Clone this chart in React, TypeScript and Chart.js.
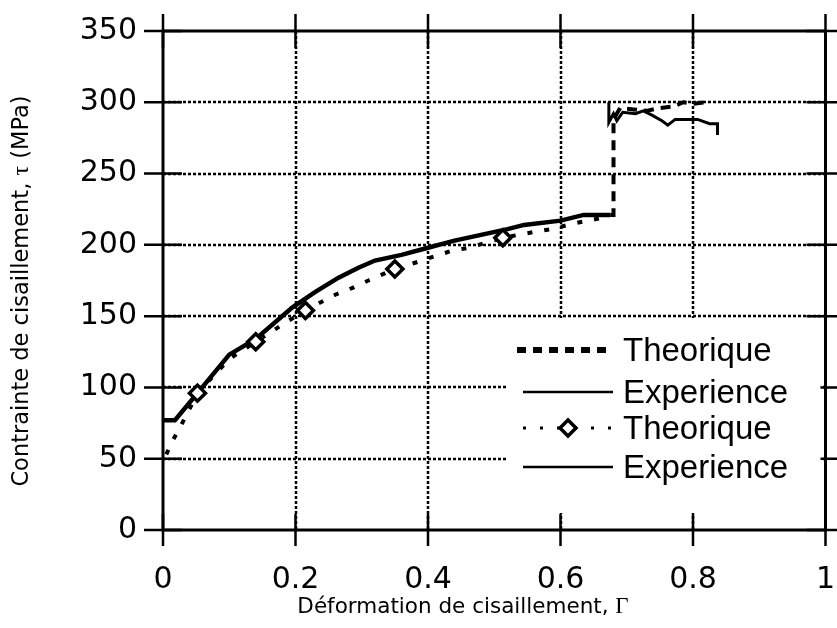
import React, { useEffect, useRef } from "react";
import { Chart, registerables } from "chart.js";

Chart.register(...registerables);

// ---- axis ticks ----
const xTicks = [0, 0.2, 0.4, 0.6, 0.8, 1];
const yTicks = [0, 50, 100, 150, 200, 250, 300, 350];

// ---- series: "Theorique" (dashed, high-strain) ----
const theoHighX = [0.675, 0.68, 0.68, 0.69, 0.71, 0.73, 0.75, 0.77, 0.785, 0.8, 0.82];
const theoHighY = [221, 221, 288, 296, 295, 294, 296, 297, 300, 299, 300];

// ---- series: "Experience" (thin solid, high-strain) ----
const expHighX = [0.673, 0.673, 0.68, 0.685, 0.694, 0.713, 0.725, 0.738, 0.753, 0.762, 0.773, 0.79, 0.807, 0.825, 0.837, 0.837];
const expHighY = [300, 286, 292, 287, 293, 292, 294, 291, 287, 284, 288, 288, 288, 285, 285, 277];

// ---- series: "Theorique" (dotted with diamonds) ----
const theoLowX = [0.005, 0.015, 0.028, 0.052, 0.1, 0.14, 0.18, 0.215, 0.235, 0.26, 0.287, 0.31, 0.35, 0.384, 0.41, 0.437, 0.462, 0.513, 0.56, 0.586, 0.62, 0.663, 0.675];
const theoLowY = [53, 63, 74, 96, 120, 132, 144, 154, 159, 165, 170, 175, 183, 188, 192, 196, 198, 205, 209, 211, 215, 219, 220];
const markerX = [0.052, 0.14, 0.215, 0.35, 0.513];
const markerY = [96, 132, 154, 183, 205];

// ---- series: "Experience" (thick solid) ----
const expLowX = [0, 0.018, 0.052, 0.1, 0.14, 0.195, 0.23, 0.265, 0.295, 0.32, 0.36, 0.4, 0.44, 0.48, 0.52, 0.545, 0.6, 0.635, 0.675];
const expLowY = [77, 77, 96, 123, 134, 156, 167, 177, 184, 189, 193, 198, 203, 207, 211, 214, 217, 221, 221];

const legendLabels = ["Theorique", "Experience", "Theorique", "Experience"];
const xTitle = ["Déformation de cisaillement, ", "Γ"];
const yTitle = ["Contrainte de cisaillement, ", "τ", " (MPa)"];

const SANS = '"DejaVu Sans", sans-serif';
const SERIF = '"Liberation Serif", serif';
const LEG = '"Liberation Sans", Arial, sans-serif';

const pts = (xs: number[], ys: number[]) => xs.map((x, i) => ({ x, y: ys[i] }));

function drawMixed(ctx: CanvasRenderingContext2D, parts: { t: string; f: string }[], cx: number, cy: number) {
  let total = 0;
  const widths = parts.map((p) => {
    ctx.font = p.f;
    const w = ctx.measureText(p.t).width;
    total += w;
    return w;
  });
  let x = cx - total / 2;
  ctx.textAlign = "left";
  ctx.textBaseline = "middle";
  parts.forEach((p, i) => {
    ctx.font = p.f;
    ctx.fillText(p.t, x, cy);
    x += widths[i];
  });
}

export default function App() {
  const ref = useRef<HTMLCanvasElement>(null);

  useEffect(() => {
    if (!ref.current) return;

    const frame = {
      id: "frame",
      beforeDatasetsDraw(chart: any) {
        const { ctx, chartArea: a, scales } = chart;
        const xs = scales.x;
        const ys = scales.y;
        ctx.save();
        ctx.strokeStyle = "#000";
        // dotted grid
        ctx.lineWidth = 2.5;
        ctx.setLineDash([3, 2]);
        xTicks.slice(1, -1).forEach((v) => {
          const px = Math.round(xs.getPixelForValue(v));
          ctx.beginPath();
          ctx.moveTo(px, a.top);
          ctx.lineTo(px, a.bottom);
          ctx.stroke();
        });
        yTicks.slice(1, -1).forEach((v) => {
          const py = Math.round(ys.getPixelForValue(v));
          ctx.beginPath();
          ctx.moveTo(a.left, py);
          ctx.lineTo(a.right, py);
          ctx.stroke();
        });
        ctx.setLineDash([]);
        // frame
        ctx.lineWidth = 3;
        ctx.strokeRect(a.left, a.top, a.right - a.left, a.bottom - a.top);
        // crossing ticks
        ctx.lineWidth = 2.5;
        xTicks.forEach((v) => {
          const px = xs.getPixelForValue(v);
          ctx.beginPath();
          ctx.moveTo(px, a.bottom - 16);
          ctx.lineTo(px, a.bottom + 16);
          ctx.moveTo(px, a.top - 17);
          ctx.lineTo(px, a.top + 17);
          ctx.stroke();
        });
        yTicks.forEach((v) => {
          const py = ys.getPixelForValue(v);
          ctx.beginPath();
          ctx.moveTo(a.left - 19, py);
          ctx.lineTo(a.left + 19, py);
          ctx.moveTo(a.right - 19, py);
          ctx.lineTo(a.right + 19, py);
          ctx.stroke();
        });
        // titles
        ctx.fillStyle = "#000";
        drawMixed(
          ctx,
          [
            { t: xTitle[0], f: `21.5px ${SANS}` },
            { t: xTitle[1], f: `23px ${SERIF}` },
          ],
          a.left + 300,
          607
        );
        ctx.translate(22, 291);
        ctx.rotate(-Math.PI / 2);
        drawMixed(
          ctx,
          [
            { t: yTitle[0], f: `22.5px ${SANS}` },
            { t: yTitle[1], f: `24px ${SERIF}` },
            { t: yTitle[2], f: `22.5px ${SANS}` },
          ],
          0,
          0
        );
        ctx.restore();
      },
      afterDatasetsDraw(chart: any) {
        const { ctx, chartArea: a } = chart;
        const L = a.left + 345;
        const T = a.top + 287;
        ctx.save();
        ctx.fillStyle = "#fff";
        ctx.fillRect(L, T, a.right - 5 - L, a.bottom - 17 - T);
        ctx.strokeStyle = "#000";
        ctx.fillStyle = "#000";
        const x0 = L + 15;
        const x1 = L + 105;
        const rowsY = [T + 32, T + 74, T + 110, T + 149];
        // row 1: dashed thick
        ctx.lineWidth = 6;
        ctx.setLineDash([9, 7]);
        ctx.beginPath();
        ctx.moveTo(L + 9, rowsY[0]);
        ctx.lineTo(x1, rowsY[0]);
        ctx.stroke();
        // row 2: thin solid
        ctx.setLineDash([]);
        ctx.lineWidth = 2.5;
        ctx.beginPath();
        ctx.moveTo(x0, rowsY[1]);
        ctx.lineTo(x1, rowsY[1]);
        ctx.stroke();
        // row 3: dotted + diamond
        ctx.lineWidth = 3;
        ctx.setLineDash([3, 14]);
        ctx.beginPath();
        ctx.moveTo(x0, rowsY[2]);
        ctx.lineTo(x1, rowsY[2]);
        ctx.stroke();
        ctx.setLineDash([]);
        const dx = (x0 + x1) / 2;
        ctx.fillStyle = "#fff";
        ctx.beginPath();
        ctx.moveTo(dx - 8, rowsY[2]);
        ctx.lineTo(dx, rowsY[2] - 8);
        ctx.lineTo(dx + 8, rowsY[2]);
        ctx.lineTo(dx, rowsY[2] + 8);
        ctx.closePath();
        ctx.fill();
        ctx.lineWidth = 3.5;
        ctx.stroke();
        // row 4: solid
        ctx.lineWidth = 2.5;
        ctx.beginPath();
        ctx.moveTo(x0, rowsY[3]);
        ctx.lineTo(x1, rowsY[3]);
        ctx.stroke();
        // labels
        ctx.fillStyle = "#000";
        ctx.font = `33px ${LEG}`;
        ctx.textAlign = "left";
        ctx.textBaseline = "middle";
        legendLabels.forEach((lab, i) => ctx.fillText(lab, L + 115, rowsY[i] + 2));
        ctx.restore();
      },
    };

    const chart = new Chart(ref.current, {
      type: "scatter",
      data: {
        datasets: [
          {
            label: "markers",
            data: pts(markerX, markerY),
            showLine: false,
            pointStyle: "rectRot",
            pointRadius: 8,
            pointBorderWidth: 3.5,
            pointBackgroundColor: "#fff",
            pointBorderColor: "#000",
            order: -1,
          },
          {
            label: legendLabels[0],
            data: pts(theoHighX, theoHighY),
            showLine: true,
            borderColor: "#000",
            borderWidth: 4,
            borderDash: [10, 7],
            pointRadius: 0,
            tension: 0,
          },
          {
            label: legendLabels[1],
            data: pts(expHighX, expHighY),
            showLine: true,
            borderColor: "#000",
            borderWidth: 3,
            pointRadius: 0,
            tension: 0,
          },
          {
            label: legendLabels[2],
            data: pts(theoLowX, theoLowY),
            showLine: true,
            borderColor: "#000",
            borderWidth: 4,
            borderDash: [5, 12],
            pointRadius: 0,
            tension: 0,
          },
          {
            label: legendLabels[3],
            data: pts(expLowX, expLowY),
            showLine: true,
            borderColor: "#000",
            borderWidth: 4.5,
            pointRadius: 0,
            tension: 0,
          },
        ],
      },
      options: {
        animation: false,
        responsive: true,
        maintainAspectRatio: false,
        layout: { padding: { top: 31, right: 5, left: 0, bottom: 0 } },
        plugins: {
          legend: { display: false },
          tooltip: { enabled: false },
        },
        scales: {
          x: {
            type: "linear",
            min: 0,
            max: 1,
            afterBuildTicks: (s: any) => {
              s.ticks = xTicks.map((v) => ({ value: v }));
            },
            afterFit: (s: any) => {
              s.height = 98;
              s.paddingLeft = 0;
              s.paddingRight = 0;
            },
            grid: { display: false, drawTicks: false },
            border: { display: false },
            ticks: {
              padding: 32,
              color: "#000",
              font: { family: SANS, size: 30 },
              maxRotation: 0,
              autoSkip: false,
              callback: (v: any) => String(Number(Number(v).toFixed(1))),
            },
          },
          y: {
            type: "linear",
            min: 0,
            max: 350,
            afterBuildTicks: (s: any) => {
              s.ticks = yTicks.map((v) => ({ value: v }));
            },
            afterFit: (s: any) => {
              s.width = 163;
              s.paddingTop = 0;
              s.paddingBottom = 0;
            },
            grid: { display: false, drawTicks: false },
            border: { display: false },
            ticks: {
              padding: 26,
              color: "#000",
              font: { family: SANS, size: 30 },
              autoSkip: false,
              callback: (v: any) => String(v),
            },
          },
        },
      },
      plugins: [frame],
    });

    return () => chart.destroy();
  }, []);

  return (
    <div style={{ position: "fixed", left: 0, top: 0, width: 837, height: 628, background: "#fff" }}>
      <canvas ref={ref} />
    </div>
  );
}
